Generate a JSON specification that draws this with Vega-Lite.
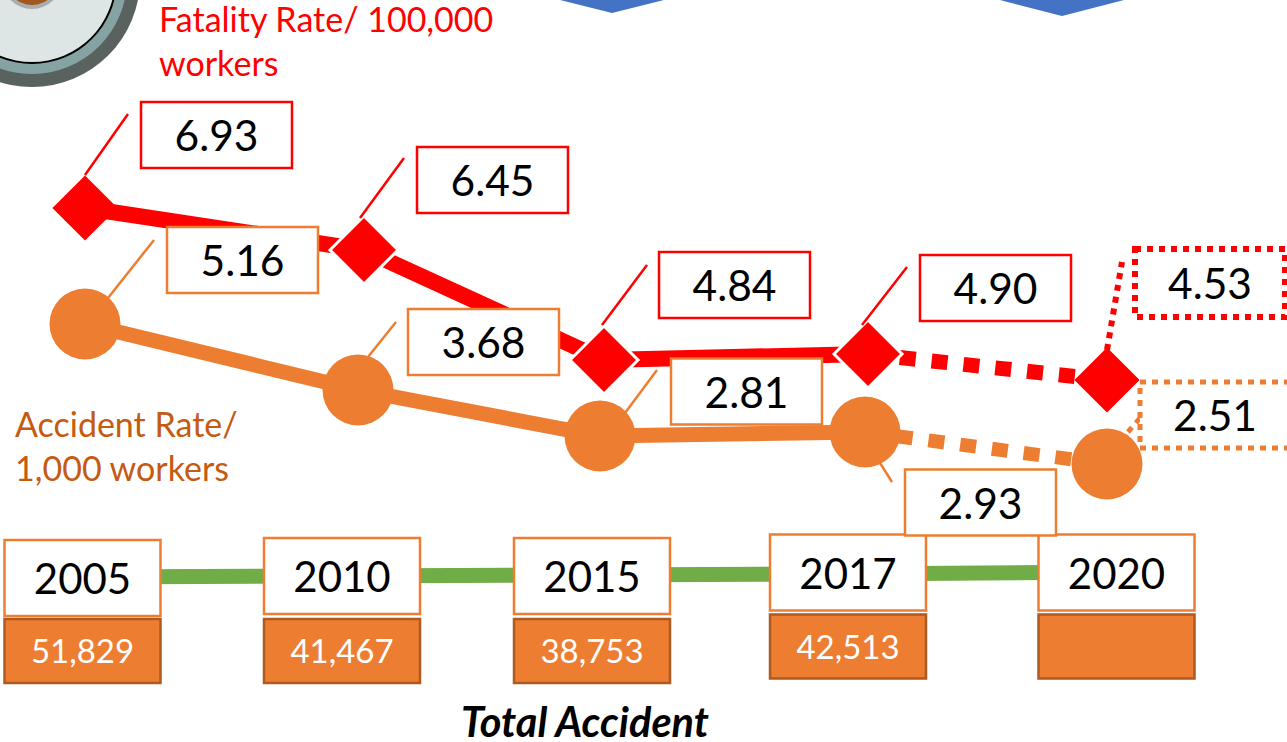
{
"$schema":"https://vega.github.io/schema/vega-lite/v6.json",
"width":1287,"height":742,"padding":0,"autosize":{"type":"none"},
"background":"white",
"config":{"view":{"stroke":null},"text":{"font":"Lato"}},
"datasets":{
"fatality":[{"year":2005,"rate":6.93,"phase":"actual"},{"year":2010,"rate":6.45,"phase":"actual"},{"year":2015,"rate":4.84,"phase":"actual"},{"year":2017,"rate":4.90,"phase":"actual"},{"year":2020,"rate":4.53,"phase":"target"}],
"accident":[{"year":2005,"rate":5.16,"phase":"actual"},{"year":2010,"rate":3.68,"phase":"actual"},{"year":2015,"rate":2.81,"phase":"actual"},{"year":2017,"rate":2.93,"phase":"actual"},{"year":2020,"rate":2.51,"phase":"target"}],
"fatalityLine":[{"year":2005,"rate":6.93,"stretch":"actual"},{"year":2010,"rate":6.45,"stretch":"actual"},{"year":2015,"rate":4.84,"stretch":"actual"},{"year":2017,"rate":4.90,"stretch":"actual"},{"year":2017,"rate":4.90,"stretch":"target"},{"year":2020,"rate":4.53,"stretch":"target"}],
"accidentLine":[{"year":2005,"rate":5.16,"stretch":"actual"},{"year":2010,"rate":3.68,"stretch":"actual"},{"year":2015,"rate":2.81,"stretch":"actual"},{"year":2017,"rate":2.93,"stretch":"actual"},{"year":2017,"rate":2.93,"stretch":"target"},{"year":2020,"rate":2.51,"stretch":"target"}],
"timeline":[{"year":2005,"total":51829},{"year":2010,"total":41467},{"year":2015,"total":38753},{"year":2017,"total":42513},{"year":2020,"total":null}]
},
"resolve":{"scale":{"x":"independent","y":"independent","shape":"independent","size":"independent","color":"independent"}},
"layer":[
{"data":{"values":[{"year":2005}]},
 "encoding":{
  "x":{"field":"year","type":"quantitative","axis":null,"scale":{"domain":[2005,2006],"range":[32,33],"nice":false,"zero":false}},
  "y":{"field":"year","type":"quantitative","axis":null,"scale":{"domain":[2005,2006],"range":[-21,-20],"nice":false,"zero":false}}
 },
 "layer":[
  {"mark":{"type":"point","filled":true,"opacity":1,"shape":"circle","size":46656,"fill":"#59625f","strokeWidth":0}},
  {"mark":{"type":"point","filled":true,"opacity":1,"shape":"circle","size":36100,"fill":"#86a3a3","strokeWidth":0}},
  {"mark":{"type":"point","filled":true,"opacity":1,"shape":"circle","size":28900,"fill":"#000000","strokeWidth":0}},
  {"mark":{"type":"point","filled":true,"opacity":1,"shape":"circle","size":27556,"fill":"#dde5e5","strokeWidth":0}},
  {"mark":{"type":"point","filled":true,"opacity":1,"shape":"circle","size":3600,"fill":"#a9adad","strokeWidth":0}},
  {"mark":{"type":"point","filled":true,"opacity":1,"shape":"circle","size":2704,"fill":"#a0581e","strokeWidth":0}}
 ]},
{"data":{"values":[{"year":2010},{"year":2020}]},
 "mark":{"type":"point","filled":true,"opacity":1,"color":"#4472C4"},
 "encoding":{
  "x":{"field":"year","type":"quantitative","axis":null,"scale":{"domain":[2010,2020],"range":[612,1062],"nice":false,"zero":false}},
  "y":{"field":"year","type":"quantitative","axis":null,"scale":{"domain":[2010,2020],"range":[0,0],"nice":false,"zero":false}},
  "size":{"value":4},
  "shape":{"field":"year","type":"nominal","legend":null,"scale":{"domain":[2010,2020],"range":["M-52,0L0,13L52,0L52,-5L-52,-5Z","M-62,0L0,16L62,0L62,-5L-62,-5Z"]}}
 }},
{"data":{"name":"timeline"},
 "mark":{"type":"line","color":"#70AD47","strokeWidth":15},
 "encoding":{
  "x":{"field":"year","type":"quantitative","axis":null,"scale":{"domain":[2005,2010,2015,2017,2020],"range":[83,342,592,848,1117],"nice":false,"zero":false}},
  "y":{"field":"year","type":"quantitative","axis":null,"scale":{"domain":[2005,2010,2015,2017,2020],"range":[577,576,575,574,572],"nice":false,"zero":false}}
 }},
{"data":{"name":"timeline"},
 "encoding":{
  "x":{"field":"year","type":"quantitative","axis":null,"scale":{"domain":[2005,2010,2015,2017,2020],"range":[82.5,342,592,848,1116.5],"nice":false,"zero":false}},
  "y":{"field":"year","type":"quantitative","axis":null,"scale":{"domain":[2005,2010,2015,2017,2020],"range":[578,576,576,572.5,572.5],"nice":false,"zero":false}}
 },
 "layer":[
  {"mark":{"type":"rect","width":156,"height":76,"fill":"white","stroke":"#ED7D31","strokeWidth":2.5}},
  {"mark":{"type":"text","fontSize":42,"color":"black","baseline":"middle","align":"center","dy":3},"encoding":{"text":{"field":"year","type":"nominal"}}}
 ]},
{"data":{"name":"timeline"},
 "encoding":{
  "x":{"field":"year","type":"quantitative","axis":null,"scale":{"domain":[2005,2010,2015,2017,2020],"range":[82.5,342,592,848,1116.5],"nice":false,"zero":false}},
  "y":{"field":"year","type":"quantitative","axis":null,"scale":{"domain":[2005,2010,2015,2017,2020],"range":[651,651,651,646.5,646.5],"nice":false,"zero":false}}
 },
 "layer":[
  {"mark":{"type":"rect","width":156,"height":64,"fill":"#ED7D31","stroke":"#AE5A21","strokeWidth":2.5}},
  {"transform":[{"filter":"isValid(datum.total)"}],"mark":{"type":"text","fontSize":33,"color":"white","baseline":"middle","align":"center","dy":2},"encoding":{"text":{"field":"total","type":"quantitative","format":","}}}
 ]},
{"data":{"name":"fatalityLine"},
 "encoding":{
  "x":{"field":"year","type":"quantitative","axis":null,"scale":{"domain":[2005,2010,2015,2017,2020],"range":[85,364,604,868,1107],"nice":false,"zero":false}},
  "y":{"field":"rate","type":"quantitative","axis":null,"scale":{"domain":[4.53,4.84,4.90,6.45,6.93],"range":[380,360,354,250,208],"nice":false,"zero":false}}
 },
 "layer":[
  {"transform":[{"filter":"datum.stretch=='actual'"}],"mark":{"type":"line","color":"#FF0000","strokeWidth":16}},
  {"transform":[{"filter":"datum.stretch=='target'"}],"mark":{"type":"line","color":"#FF0000","strokeWidth":15,"strokeDash":[16,16]}}
 ]},
{"data":{"name":"fatality"},
 "encoding":{
  "x":{"field":"year","type":"quantitative","axis":null,"scale":{"domain":[2005,2010,2015,2017,2020],"range":[85,364,604,868,1107],"nice":false,"zero":false}},
  "y":{"field":"rate","type":"quantitative","axis":null,"scale":{"domain":[4.53,4.84,4.90,6.45,6.93],"range":[380,360,354,250,208],"nice":false,"zero":false}}
 },
 "layer":[
  {"mark":{"type":"point","filled":true,"opacity":1,"shape":"diamond","fill":"#FF0000","strokeWidth":3},
   "encoding":{
    "stroke":{"condition":{"test":"datum.year>=2010 && datum.year<=2017","value":"white"},"value":"#FF0000"},
    "size":{"condition":{"test":"datum.year>=2010 && datum.year<=2017","value":4624},"value":3721}
   }},
  {"transform":[{"filter":"datum.phase=='actual'"}],"mark":{"type":"point","filled":false,"opacity":1,"color":"#FF0000","strokeWidth":2.5,"size":4},
   "encoding":{"shape":{"field":"year","type":"nominal","legend":null,"scale":{"domain":[2005,2010,2015,2017],"range":["M0,-33L43,-94","M-4,-32L40,-92","M-2,-35L43,-95","M-6,-29L39,-87"]}}}},
  {"transform":[{"filter":"datum.phase=='target'"}],"mark":{"type":"point","filled":false,"opacity":1,"color":"#FF0000","strokeWidth":6,"strokeDash":[6,6],"size":4,"shape":"M0,-30L15,-118"}},
  {"transform":[{"filter":"datum.year==2005"}],"mark":{"type":"text","text":["Fatality Rate/ 100,000","workers"],"color":"#FF0000","fontSize":34,"lineHeight":44,"align":"left","baseline":"middle","dx":74,"dy":-186}}
 ]},
{"data":{"name":"accidentLine"},
 "encoding":{
  "x":{"field":"year","type":"quantitative","axis":null,"scale":{"domain":[2005,2010,2015,2017,2020],"range":[85,358,600,865,1107],"nice":false,"zero":false}},
  "y":{"field":"rate","type":"quantitative","axis":null,"scale":{"domain":[2.51,2.81,2.93,3.68,5.16],"range":[464,436,432,390,324],"nice":false,"zero":false}}
 },
 "layer":[
  {"transform":[{"filter":"datum.stretch=='actual'"}],"mark":{"type":"line","color":"#ED7D31","strokeWidth":15}},
  {"transform":[{"filter":"datum.stretch=='target'"}],"mark":{"type":"line","color":"#ED7D31","strokeWidth":14,"strokeDash":[16,16]}}
 ]},
{"data":{"name":"accident"},
 "encoding":{
  "x":{"field":"year","type":"quantitative","axis":null,"scale":{"domain":[2005,2010,2015,2017,2020],"range":[85,358,600,865,1107],"nice":false,"zero":false}},
  "y":{"field":"rate","type":"quantitative","axis":null,"scale":{"domain":[2.51,2.81,2.93,3.68,5.16],"range":[464,436,432,390,324],"nice":false,"zero":false}}
 },
 "layer":[
  {"mark":{"type":"point","filled":true,"opacity":1,"shape":"circle","size":5041,"color":"#ED7D31"}},
  {"transform":[{"filter":"datum.phase=='actual'"}],"mark":{"type":"point","filled":false,"opacity":1,"color":"#ED7D31","strokeWidth":2.5,"size":4},
   "encoding":{"shape":{"field":"year","type":"nominal","legend":null,"scale":{"domain":[2005,2010,2015,2017],"range":["M23,-26L69,-84","M10,-33L38,-68","M25,-23L57,-66","M15,31L27,50"]}}}},
  {"transform":[{"filter":"datum.phase=='target'"}],"mark":{"type":"point","filled":false,"opacity":1,"color":"#ED7D31","strokeWidth":5,"strokeDash":[6,6],"size":4,"shape":"M21,-32L33,-46"}},
  {"transform":[{"filter":"datum.year==2005"}],"mark":{"type":"text","text":["Accident Rate/","1,000 workers"],"color":"#C55A11","fontSize":34,"lineHeight":44,"align":"left","baseline":"middle","dx":-70,"dy":103}}
 ]},
{"data":{"name":"fatality"},
 "encoding":{
  "x":{"field":"year","type":"quantitative","axis":null,"scale":{"domain":[2005,2010,2015,2017,2020],"range":[216.5,492.5,734.5,995.5,1210],"nice":false,"zero":false}},
  "y":{"field":"rate","type":"quantitative","axis":null,"scale":{"domain":[4.53,4.84,4.90,6.45,6.93],"range":[283,285,288,180,135],"nice":false,"zero":false}}
 },
 "layer":[
  {"transform":[{"filter":"datum.phase=='actual'"}],"mark":{"type":"rect","width":151,"height":66,"fill":"white","stroke":"#FF0000","strokeWidth":2.5}},
  {"transform":[{"filter":"datum.phase=='target'"}],"mark":{"type":"rect","width":150,"height":68,"fill":"white","stroke":"#FF0000","strokeWidth":6,"strokeDash":[6,6]}},
  {"mark":{"type":"text","fontSize":42.5,"color":"black","baseline":"middle","align":"center","dy":3},"encoding":{"text":{"field":"rate","type":"quantitative","format":".2f"}}}
 ]},
{"data":{"name":"accident"},
 "encoding":{
  "x":{"field":"year","type":"quantitative","axis":null,"scale":{"domain":[2005,2010,2015,2017,2020],"range":[242.5,483.5,746.5,980.5,1215],"nice":false,"zero":false}},
  "y":{"field":"rate","type":"quantitative","axis":null,"scale":{"domain":[2.51,2.81,2.93,3.68,5.16],"range":[415,391.5,502.5,342,260],"nice":false,"zero":false}}
 },
 "layer":[
  {"transform":[{"filter":"datum.phase=='actual'"}],"mark":{"type":"rect","width":151,"height":66,"fill":"white","stroke":"#ED7D31","strokeWidth":2.5}},
  {"transform":[{"filter":"datum.phase=='target'"}],"mark":{"type":"rect","width":150,"height":66,"fill":"white","stroke":"#ED7D31","strokeWidth":5,"strokeDash":[6,6]}},
  {"mark":{"type":"text","fontSize":42.5,"color":"black","baseline":"middle","align":"center","dy":3},"encoding":{"text":{"field":"rate","type":"quantitative","format":".2f"}}}
 ]},
{"data":{"values":[{"year":2015,"caption":"Total Accident"}]},
 "mark":{"type":"text","fontSize":41.5,"fontWeight":"bold","fontStyle":"italic","color":"black","align":"center","baseline":"middle"},
 "encoding":{
  "x":{"field":"year","type":"quantitative","axis":null,"scale":{"domain":[2015,2016],"range":[585,586],"nice":false,"zero":false}},
  "y":{"field":"year","type":"quantitative","axis":null,"scale":{"domain":[2015,2016],"range":[725,726],"nice":false,"zero":false}},
  "text":{"field":"caption","type":"nominal"}
 }}
]
}
